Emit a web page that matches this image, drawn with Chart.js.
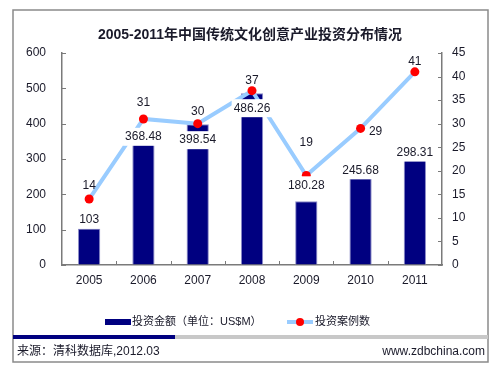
<!DOCTYPE html>
<html>
<head>
<meta charset="utf-8">
<title>2005-2011年中国传统文化创意产业投资分布情况</title>
<script src="https://cdn.jsdelivr.net/npm/chart.js"></script>
<style>
  body { margin: 0; background: #fff; }
</style>
</head>
<body>

<canvas id="invest_chart" width="500" height="375"></canvas>

<script>
const years = ['2005', '2006', '2007', '2008', '2009', '2010', '2011'];
const amounts = [103, 368.48, 398.54, 486.26, 180.28, 245.68, 298.31];
const cases = [14, 31, 30, 37, 19, 29, 41];
const leftTicks = [0, 100, 200, 300, 400, 500, 600];
const rightTicks = [0, 5, 10, 15, 20, 25, 30, 35, 40, 45];

const chartTitle = '2005-2011年中国传统文化创意产业投资分布情况';
const amountLabel = '投资金额（单位：US$M）';
const casesLabel = '投资案例数';
const sourceText = '来源：清科数据库,2012.03';
const siteText = 'www.zdbchina.com';

const FONT = '"Liberation Sans", Arial, "Noto Sans CJK SC", sans-serif';
const TEXT = '#1a1a2a';
const NAVY = '#000080';
const SKY = '#99ccff';
const AXIS = '#7a7a7a';

// where each value label sits relative to its mark (px)
const barLabelDy = [-9, 2, 16, 15, -16, -8, -7];
const lineLabelDx = [0, 0, 0, 0, 0, 15, 0];
const lineLabelDy = [-13, -16, -12, -10, -33, 3, -10];

const decorations = {
    id: 'decorations',
    beforeDraw(chart) {
        const ctx = chart.ctx;
        ctx.save();
        ctx.fillStyle = '#fff';
        ctx.fillRect(0, 0, chart.width, chart.height);
        ctx.strokeStyle = '#8a8a8a';
        ctx.lineWidth = 1.5;
        ctx.strokeRect(13, 10, 475, 352);
        ctx.fillStyle = '#c8c8c8';
        ctx.fillRect(13, 335, 475, 4);
        ctx.fillStyle = NAVY;
        ctx.fillRect(13, 335, 162, 4);

        ctx.fillStyle = TEXT;
        ctx.textBaseline = 'middle';
        ctx.font = 'bold 14px ' + FONT;
        ctx.textAlign = 'center';
        ctx.fillText(chartTitle, 250, 35);

        ctx.font = '12px ' + FONT;
        ctx.textAlign = 'left';
        ctx.fillText(sourceText, 17, 352);
        ctx.textAlign = 'right';
        ctx.fillText(siteText, 485, 352);

        // legend
        ctx.font = '11px ' + FONT;
        ctx.textAlign = 'left';
        ctx.fillStyle = NAVY;
        ctx.fillRect(105, 319, 26, 6);
        ctx.fillStyle = TEXT;
        ctx.fillText(amountLabel, 132, 322);
        ctx.strokeStyle = SKY;
        ctx.lineWidth = 4;
        ctx.beginPath();
        ctx.moveTo(287, 322);
        ctx.lineTo(313, 322);
        ctx.stroke();
        ctx.fillStyle = '#ff0000';
        ctx.beginPath();
        ctx.arc(300, 322, 4, 0, Math.PI * 2);
        ctx.fill();
        ctx.fillStyle = TEXT;
        ctx.fillText(casesLabel, 315, 322);
        ctx.restore();
    },
    afterDatasetsDraw(chart) {
        const ctx = chart.ctx;
        const area = chart.chartArea;
        const x = chart.scales.x, y = chart.scales.y, y1 = chart.scales.y1;
        ctx.save();

        // inward tick marks
        ctx.strokeStyle = AXIS;
        ctx.lineWidth = 1;
        ctx.beginPath();
        leftTicks.forEach(v => {
            const py = Math.round(y.getPixelForValue(v)) + 0.5;
            ctx.moveTo(area.left, py);
            ctx.lineTo(area.left + 4, py);
        });
        rightTicks.forEach(v => {
            const py = Math.round(y1.getPixelForValue(v)) + 0.5;
            ctx.moveTo(area.right - 4, py);
            ctx.lineTo(area.right, py);
        });
        for (let i = 1; i < years.length; i++) {
            const px = Math.round((x.getPixelForValue(i - 1) + x.getPixelForValue(i)) / 2) + 0.5;
            ctx.moveTo(px, area.bottom);
            ctx.lineTo(px, area.bottom - 4);
        }
        ctx.stroke();

        // bar value labels on white boxes
        ctx.font = '12px ' + FONT;
        ctx.textAlign = 'center';
        ctx.textBaseline = 'middle';
        const bars = chart.getDatasetMeta(0).data;
        bars.forEach((bar, i) => {
            const txt = String(amounts[i]);
            const w = ctx.measureText(txt).width + 4;
            const cy = bar.y + barLabelDy[i];
            ctx.fillStyle = '#fff';
            ctx.fillRect(bar.x - w / 2, cy - 9, w, 18);
            ctx.fillStyle = TEXT;
            ctx.fillText(txt, bar.x, cy);
        });

        const points = chart.getDatasetMeta(1).data;
        points.forEach((pt, i) => {
            ctx.fillStyle = TEXT;
            ctx.fillText(String(cases[i]), pt.x + lineLabelDx[i], pt.y + lineLabelDy[i]);
        });
        ctx.restore();
    }
};

document.addEventListener('DOMContentLoaded', function() {
    const ctx = document.getElementById('invest_chart').getContext('2d');
    new Chart(ctx, {
        type: 'bar',
        data: {
            labels: years,
            datasets: [{
                label: amountLabel,
                data: amounts,
                backgroundColor: NAVY,
                borderColor: '#8c8cc8',
                borderWidth: 1,
                yAxisID: 'y',
                order: 1,
                categoryPercentage: 1,
                barPercentage: 0.41
            }, {
                type: 'line',
                label: casesLabel,
                data: cases,
                yAxisID: 'y1',
                order: 0,
                borderColor: SKY,
                borderWidth: 4,
                pointRadius: 4.5,
                pointBackgroundColor: '#ff0000',
                pointBorderColor: '#ff0000',
                pointBorderWidth: 0,
                tension: 0,
                fill: false
            }]
        },
        options: {
            responsive: false,
            animation: false,
            events: [],
            layout: { padding: { top: 53, left: 0, right: 0, bottom: 0 } },
            scales: {
                x: {
                    offset: true,
                    afterFit(scale) { scale.height = 110; },
                    grid: { display: true, drawOnChartArea: false, drawTicks: false },
                    border: { display: true, color: AXIS, width: 1.5 },
                    ticks: { color: TEXT, padding: 8, font: { size: 12, family: FONT } }
                },
                y: {
                    position: 'left',
                    min: 0,
                    max: 600,
                    afterFit(scale) { scale.width = 62; },
                    afterBuildTicks(scale) { scale.ticks = leftTicks.map(v => ({ value: v })); },
                    grid: { display: true, drawOnChartArea: false, drawTicks: false },
                    border: { display: true, color: AXIS, width: 1.5 },
                    ticks: { color: TEXT, padding: 16, font: { size: 12, family: FONT } }
                },
                y1: {
                    position: 'right',
                    min: 0,
                    max: 45,
                    afterFit(scale) { scale.width = 58; },
                    afterBuildTicks(scale) { scale.ticks = rightTicks.map(v => ({ value: v })); },
                    grid: { display: true, drawOnChartArea: false, drawTicks: false },
                    border: { display: true, color: AXIS, width: 1.5 },
                    ticks: { color: TEXT, padding: 10, font: { size: 12, family: FONT } }
                }
            },
            plugins: {
                legend: { display: false },
                title: { display: false },
                tooltip: { enabled: false }
            }
        },
        plugins: [decorations]
    });
});
</script>

</body>
</html>
